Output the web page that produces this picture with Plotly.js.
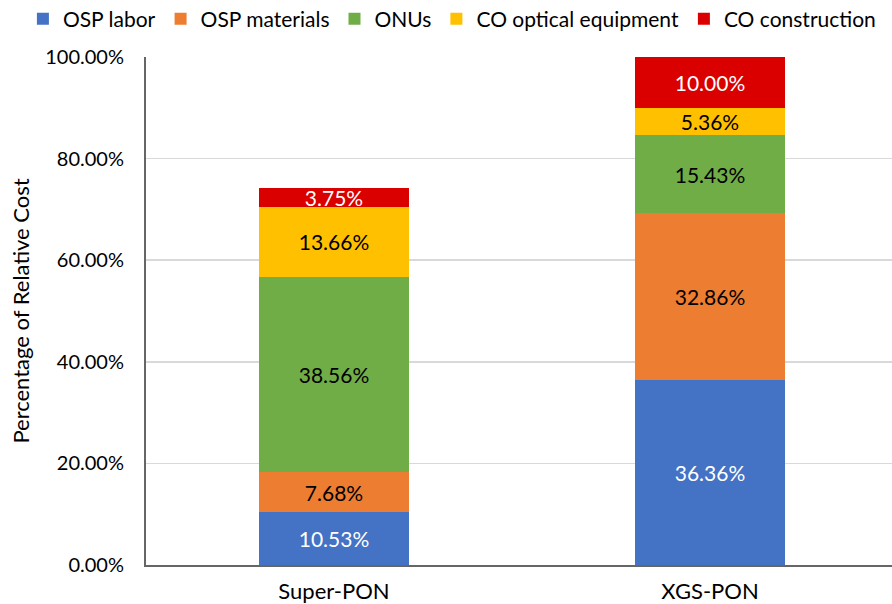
<!DOCTYPE html>
<html>
<head>
<meta charset="utf-8">
<script src="https://cdn.plot.ly/plotly-3.0.1.min.js"></script>
<style>html,body{margin:0;padding:0;background:#fff;}</style>
</head>
<body>
<div id="chart" style="width:892px;height:604px;"></div>
<script>
const categories = ["Super-PON", "XGS-PON"];
const seriesNames = ["OSP labor", "OSP materials", "ONUs", "CO optical equipment", "CO construction"];
const ospLabor = [10.53, 36.36];
const ospMaterials = [7.68, 32.86];
const onus = [38.56, 15.43];
const coOptical = [13.66, 5.36];
const coConstruction = [3.75, 10.00];
const yTickVals = [0, 20, 40, 60, 80, 100];
const yTickText = ["0.00%", "20.00%", "40.00%", "60.00%", "80.00%", "100.00%"];

const seriesValues = [ospLabor, ospMaterials, onus, coOptical, coConstruction];
const colors = ["#4472C4", "#ED7D31", "#70AD47", "#FFC000", "#DA0000"];
const textColors = ["#ffffff", "#000000", "#000000", "#000000", "#ffffff"];

const FONT = "Lato, 'Open Sans', sans-serif";

const traces = seriesValues.map((vals, i) => ({
  type: "bar",
  name: seriesNames[i],
  x: categories,
  y: vals,
  marker: { color: colors[i], line: { width: 0 } },
  width: 0.4,
  texttemplate: "%{y:.2f}%",
  textposition: "inside",
  insidetextanchor: "middle",
  constraintext: "none",
  textangle: 0,
  textfont: { family: FONT, size: 21, color: textColors[i] },
  hoverinfo: "skip"
}));

const layout = {
  width: 892,
  height: 604,
  barmode: "stack",
  paper_bgcolor: "#ffffff",
  plot_bgcolor: "#ffffff",
  font: { family: FONT, size: 20, color: "#000000" },
  margin: { l: 146, r: 0, t: 57, b: 39, autoexpand: false },
  showlegend: true,
  legend: {
    orientation: "h",
    x: -0.165, xanchor: "left",
    y: 1.115, yanchor: "top",
    font: { family: FONT, size: 21, color: "#000000" },
    traceorder: "normal",
    itemclick: false,
    tracegroupgap: 0
  },
  xaxis: {
    type: "category",
    range: [-0.5, 1.484],
    showline: true,
    linecolor: "#666666",
    linewidth: 2,
    ticks: "outside",
    ticklen: 6,
    tickcolor: "rgba(0,0,0,0)",
    showgrid: false,
    tickfont: { family: FONT, size: 22, color: "#000000" },
    zeroline: false
  },
  yaxis: {
    range: [0, 100],
    tickvals: yTickVals,
    ticktext: yTickText,
    showline: true,
    linecolor: "#666666",
    linewidth: 2,
    showgrid: true,
    gridcolor: "#d9d9d9",
    gridwidth: 1.5,
    zeroline: false,
    ticks: "outside",
    ticklen: 16,
    tickcolor: "rgba(0,0,0,0)",
    tickfont: { family: FONT, size: 20, color: "#000000" },
    title: { text: "Percentage of Relative Cost", font: { family: FONT, size: 22, color: "#000000" }, standoff: 10 }
  }
};

Plotly.newPlot("chart", traces, layout, { displayModeBar: false, staticPlot: true });
</script>
</body>
</html>
